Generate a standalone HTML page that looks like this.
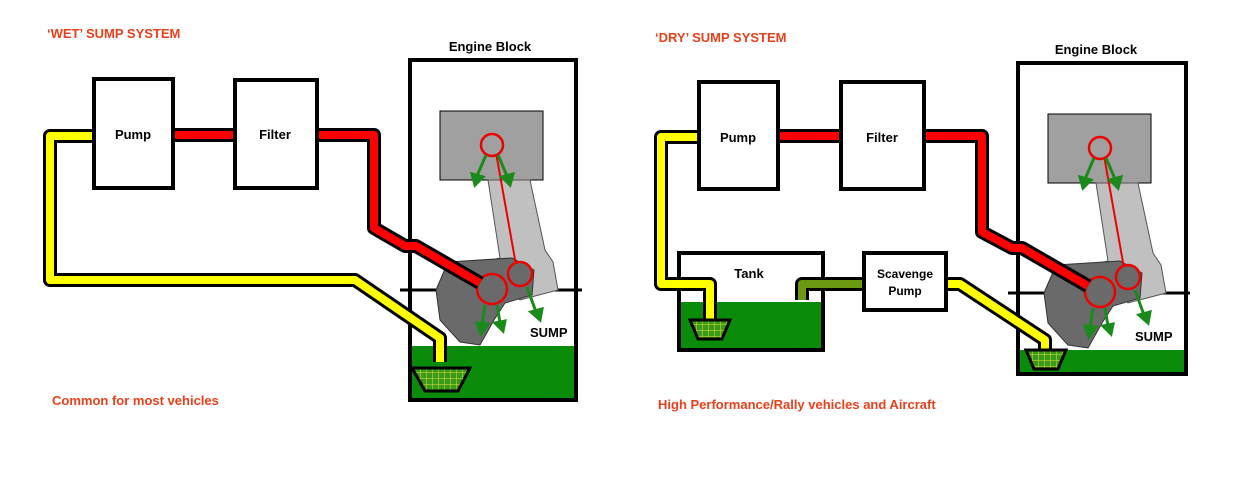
<!DOCTYPE html>
<html><head><meta charset="utf-8"><style>
body{margin:0;background:#fff}
svg text{font-family:"Liberation Sans",Arial,sans-serif;font-weight:bold}
</style></head><body>
<svg width="1236" height="479" viewBox="0 0 1236 479" xmlns="http://www.w3.org/2000/svg">
<defs>
<pattern id="mesh" width="6" height="6" patternUnits="userSpaceOnUse">
<rect width="6" height="6" fill="#3a9a1a"/>
<path d="M0 0V6M0 0H6" stroke="#e0e040" stroke-width="1"/>
</pattern>
<g id="internals">
 <rect x="440" y="111" width="103" height="69" fill="#a0a0a0" stroke="#000" stroke-width="1"/>
 <polygon points="488,180 530,180 545,250 553,262 558,290 520,300 500,280 480,270 482,262 500,258" fill="#c0c0c0" stroke="#555" stroke-width="1"/>
 <path d="M448,262 L512,258 L534,270 L532,295 L505,303 L494,320 L480,345 L460,342 L440,320 L436,290 Z" fill="#6a6a6a" stroke="#333" stroke-width="1"/>
 <line x1="495" y1="147" x2="516" y2="265" stroke="#e00" stroke-width="2"/>
 <circle cx="492" cy="145" r="11" fill="#a0a0a0" stroke="#e00" stroke-width="2.5"/>
 <circle cx="492" cy="289" r="15" fill="#6a6a6a" stroke="#e00" stroke-width="2.5"/>
 <circle cx="520" cy="274" r="12" fill="#6a6a6a" stroke="#e00" stroke-width="2.5"/>
 <g stroke="#1a8a1a" stroke-width="3" fill="#1a8a1a">
  <line x1="486" y1="155" x2="477" y2="176"/><polygon points="472,174 483,177 475,185"/>
  <line x1="498" y1="155" x2="507" y2="176"/><polygon points="502,177 513,174 510,185"/>
  <line x1="485" y1="305" x2="482" y2="325"/><polygon points="477,323 488,324 481,334"/>
  <line x1="497" y1="305" x2="500" y2="323"/><polygon points="495,323 505,321 503,331"/>
  <line x1="527" y1="287" x2="536" y2="312"/><polygon points="531,312 542,309 540,320"/>
 </g>
</g>
</defs>

<!-- LEFT -->
<text x="47" y="38" font-size="13" fill="#e8401c">‘WET’ SUMP SYSTEM</text>
<text x="52" y="405" font-size="13" fill="#e8401c">Common for most vehicles</text>
<text x="490" y="51" font-size="13" text-anchor="middle">Engine Block</text>
<rect x="410" y="346" width="166" height="54" fill="#0a8c0a"/>
<rect x="410" y="60" width="166" height="340" fill="none" stroke="#000" stroke-width="4"/>
<line x1="400" y1="290" x2="582" y2="290" stroke="#000" stroke-width="3"/>
<use href="#internals"/>
<!-- yellow pipe -->
<path d="M93,136 H50 V280 H355 L440,338 V362" fill="none" stroke="#000" stroke-width="14" stroke-linejoin="round"/>
<path d="M93,136 H50 V280 H355 L440,338 V362" fill="none" stroke="#ffff00" stroke-width="8" stroke-linejoin="round"/>
<!-- red pipe -->
<path d="M173,135 H233 M318,135 H374 V228 L405,246 H416 L480,283" fill="none" stroke="#000" stroke-width="14" stroke-linejoin="round"/>
<path d="M173,135 H233 M318,135 H374 V228 L405,246 H416 L480,283" fill="none" stroke="#ff0000" stroke-width="8" stroke-linejoin="round"/>
<polygon points="412,368 470,368 458,391 425,391" fill="url(#mesh)" stroke="#000" stroke-width="3"/>
<text x="530" y="337" font-size="13">SUMP</text>
<rect x="94" y="79" width="79" height="109" fill="#fff" stroke="#000" stroke-width="4"/>
<rect x="235" y="80" width="82" height="108" fill="#fff" stroke="#000" stroke-width="4"/>
<text x="133" y="139" font-size="13" text-anchor="middle">Pump</text>
<text x="275" y="139" font-size="13" text-anchor="middle">Filter</text>

<!-- RIGHT -->
<text x="655" y="42" font-size="13" fill="#e8401c">‘DRY’ SUMP SYSTEM</text>
<text x="658" y="409" font-size="13" fill="#e8401c">High Performance/Rally vehicles and Aircraft</text>
<text x="1096" y="54" font-size="13" text-anchor="middle">Engine Block</text>
<rect x="1018" y="350" width="168" height="24" fill="#0a8c0a"/>
<rect x="1018" y="63" width="168" height="311" fill="none" stroke="#000" stroke-width="4"/>
<line x1="1008" y1="293" x2="1190" y2="293" stroke="#000" stroke-width="3"/>
<use href="#internals" transform="translate(608,3)"/>
<!-- tank -->
<rect x="679" y="302" width="144" height="48" fill="#0a8c0a"/>
<rect x="679" y="253" width="144" height="97" fill="none" stroke="#000" stroke-width="4"/>
<text x="749" y="278" font-size="13" text-anchor="middle">Tank</text>
<!-- yellow pipes -->
<path d="M698,137 H661 V284 H710 V322" fill="none" stroke="#000" stroke-width="14" stroke-linejoin="round"/>
<path d="M698,137 H661 V284 H710 V322" fill="none" stroke="#ffff00" stroke-width="8" stroke-linejoin="round"/>
<path d="M947,284 H960 L1045,340 V352" fill="none" stroke="#000" stroke-width="14" stroke-linejoin="round"/>
<path d="M947,284 H960 L1045,340 V352" fill="none" stroke="#ffff00" stroke-width="8" stroke-linejoin="round"/>
<!-- olive pipe -->
<path d="M802,300 V284 H863" fill="none" stroke="#000" stroke-width="14" stroke-linejoin="round"/>
<path d="M802,300 V284 H863" fill="none" stroke="#6b9a10" stroke-width="8" stroke-linejoin="round"/>
<!-- red -->
<path d="M778,136 H840 M925,136 H982 V232 L1012,248 H1022 L1088,286" fill="none" stroke="#000" stroke-width="14" stroke-linejoin="round"/>
<path d="M778,136 H840 M925,136 H982 V232 L1012,248 H1022 L1088,286" fill="none" stroke="#ff0000" stroke-width="8" stroke-linejoin="round"/>
<polygon points="690,320 730,320 722,339 698,339" fill="url(#mesh)" stroke="#000" stroke-width="3"/>
<polygon points="1026,350 1066,350 1058,369 1034,369" fill="url(#mesh)" stroke="#000" stroke-width="3"/>
<text x="1135" y="341" font-size="13">SUMP</text>
<rect x="864" y="253" width="82" height="57" fill="#fff" stroke="#000" stroke-width="4"/>
<text x="905" y="278" font-size="12" text-anchor="middle">Scavenge</text>
<text x="905" y="295" font-size="12" text-anchor="middle">Pump</text>
<rect x="699" y="82" width="79" height="107" fill="#fff" stroke="#000" stroke-width="4"/>
<rect x="841" y="82" width="83" height="107" fill="#fff" stroke="#000" stroke-width="4"/>
<text x="738" y="142" font-size="13" text-anchor="middle">Pump</text>
<text x="882" y="142" font-size="13" text-anchor="middle">Filter</text>
</svg>
</body></html>
